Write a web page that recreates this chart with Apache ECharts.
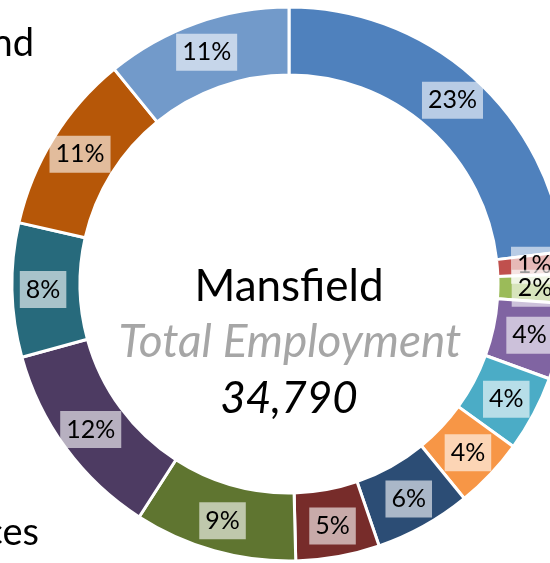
<!DOCTYPE html>
<html>
<head>
<meta charset="utf-8">
<script src="https://cdn.jsdelivr.net/npm/echarts@6/dist/echarts.min.js"></script>
<style>
html, body { margin: 0; padding: 0; background: #fff; }
#chart { width: 550px; height: 563px; }
</style>
</head>
<body>
<div id="chart"></div>
<script>
// employment by sector, clockwise from 12 o'clock
const sectors = [
  'Health', 'Agriculture', 'Mining & utilities', 'Manufacturing', 'Construction',
  'Motor trades', 'Wholesale', 'Retail', 'Transport & storage',
  'Accommodation & food', 'Information & communication', 'Business administration', 'Education'
];
const jobs = [8050, 450, 590, 1540, 1540, 1430, 1960, 1700, 3300, 4050, 2720, 3680, 3780];
const colors = [
  '#4F81BD', '#C0504D', '#9BBB59', '#8064A2', '#4BACC6', '#F79646', '#2C4D75',
  '#772C2A', '#5F7530', '#4D3B62', '#276A7C', '#B65708', '#729ACA'
];
const place = 'Mansfield';
const totalLabel = 'Total Employment';
const total = jobs.reduce((a, b) => a + b, 0);

const chart = echarts.init(document.getElementById('chart'));

const option = {
  animation: false,
  backgroundColor: '#fff',
  series: [{
    type: 'pie',
    center: [289, 284],
    radius: [209, 277],
    startAngle: 90,
    clockwise: true,
    data: sectors.map((s, i) => ({
      name: s,
      value: jobs[i],
      itemStyle: { color: colors[i] }
    })),
    itemStyle: { borderColor: '#fff', borderWidth: 3 },
    label: {
      show: true,
      position: 'inside',
      formatter: p => Math.round(p.value / total * 100) + '%',
      fontFamily: 'Lato',
      fontSize: 25,
      color: '#000',
      backgroundColor: 'rgba(255,255,255,0.6)',
      padding: [5, 6],
      lineHeight: 27
    },
    labelLayout: { hideOverlap: false },
    labelLine: { show: false },
    emphasis: { disabled: true }
  }],
  graphic: [
    {
      type: 'text',
      style: {
        text: place, x: 289, y: 287, align: 'center', verticalAlign: 'middle',
        font: '44px Lato', fill: '#000'
      }
    },
    {
      type: 'text',
      style: {
        text: totalLabel, x: 290, y: 342, align: 'center', verticalAlign: 'middle',
        font: 'italic 46px Lato', fill: '#A6A6A6'
      }
    },
    {
      type: 'text',
      style: {
        text: total.toLocaleString('en-GB'), x: 289, y: 399, align: 'center', verticalAlign: 'middle',
        font: 'italic 44px Lato', fill: '#000'
      }
    },
    // legend text cut off at the left edge
    {
      type: 'text',
      style: { text: 'nd', x: 34, y: 44, align: 'right', verticalAlign: 'middle', font: '38px Lato', fill: '#000' }
    },
    {
      type: 'text',
      style: { text: 'ces', x: 39, y: 533, align: 'right', verticalAlign: 'middle', font: '38px Lato', fill: '#000' }
    }
  ]
};

chart.setOption(option);
</script>
</body>
</html>
